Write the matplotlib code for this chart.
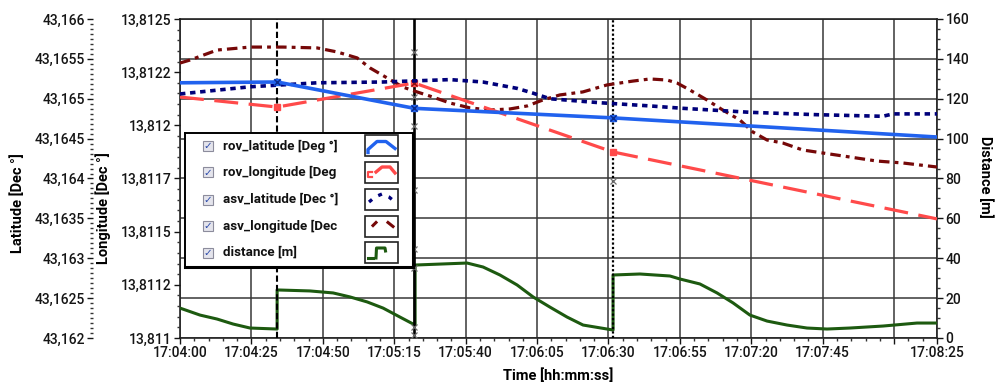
import matplotlib
matplotlib.use('Agg')
import matplotlib.pyplot as plt
from matplotlib.ticker import MultipleLocator
from matplotlib.patches import Rectangle

plt.rcParams['font.family'] = ['Roboto', 'DejaVu Sans']

# time axis: seconds after 17:04:00
x_ticks = [0, 25, 50, 75, 100, 125, 150, 175, 200, 225, 250, 265]
x_labels = ['17:04:00', '17:04:25', '17:04:50', '17:05:15', '17:05:40', '17:06:05',
            '17:06:30', '17:06:55', '17:07:20', '17:07:45', '', '17:08:25']

lat_ticks = [43.162, 43.1625, 43.163, 43.1635, 43.164, 43.1645, 43.165, 43.1655, 43.166]
lat_labels = ['43,162', '43,1625', '43,163', '43,1635', '43,164', '43,1645', '43,165', '43,1655', '43,166']
lon_ticks = [13.811, 13.81125, 13.8115, 13.81175, 13.812, 13.81225, 13.8125]
lon_labels = ['13,811', '13,8112', '13,8115', '13,8117', '13,812', '13,8122', '13,8125']

# rov: straight legs between waypoints
t_rov = [0, 34, 82, 151.5, 265]
rov_latitude = [43.16520, 43.16521, 43.16488, 43.16476, 43.16452]
rov_longitude = [13.812133, 13.812086, 13.812199, 13.811875, 13.811560]

t_asv_lat = [0, 24.5, 48, 71, 94.5, 106, 118, 123.6, 129.5, 147, 164.5, 176, 199.5,
             223, 246, 249.6, 265]
asv_latitude = [43.16506, 43.16515, 43.16520, 43.16521, 43.16524, 43.16521, 43.16513,
                43.16507, 43.16500, 43.16495, 43.16491, 43.16488, 43.16483, 43.16480,
                43.16478, 43.16481, 43.16481]

t_asv_lon = [0, 3.5, 13, 24.5, 36, 48, 55, 62, 66.5, 72.5, 78, 83, 88.5, 94.5, 101.5,
             108.5, 115.5, 121.5, 127, 133, 141, 149.5, 158.5, 164.5, 170.5, 174, 178.5,
             184.5, 190, 196, 200.5, 205.5, 211, 218, 225, 234.5, 244, 253, 265]
asv_longitude = [13.812293, 13.812307, 13.812354, 13.812368, 13.812368, 13.812364,
                 13.812345, 13.812317, 13.812270, 13.812223, 13.812180, 13.812157,
                 13.812133, 13.812105, 13.812082, 13.812072, 13.812077, 13.812091,
                 13.812119, 13.812143, 13.812157, 13.812190, 13.812208, 13.812218,
                 13.812213, 13.812199, 13.812166, 13.812119, 13.812072, 13.812025,
                 13.811969, 13.811931, 13.811917, 13.811884, 13.811870, 13.811851,
                 13.811832, 13.811823, 13.811804]

t_dist = [0, 7, 13, 18.6, 24.5, 34, 34, 45.5, 53.6, 59.5, 65.5, 71.1, 77, 82.3, 82.3,
          100.5, 106.1, 112, 118, 123.6, 129.5, 135.5, 141.1, 149.5, 151.6, 151.6, 161,
          171.5, 175, 182, 188, 193.6, 199.5, 205.5, 212.5, 219.5, 226.5, 234.5, 246.1,
          258, 265]
distance = [15.0, 11.5, 9.5, 7.0, 5.0, 4.5, 24.1, 23.6, 22.6, 20.6, 18.1, 15.0, 10.5,
            6.5, 36.6, 37.6, 35.6, 31.6, 26.6, 20.6, 15.5, 10.5, 6.5, 4.5, 4.0, 31.6,
            32.1, 31.1, 29.6, 27.1, 22.6, 17.6, 11.5, 8.5, 6.5, 5.0, 4.5, 5.0, 6.0, 7.5,
            7.5]

cursor_times = [34, 82, 151.5]
cursor_marks_t = [82, 82, 82, 82, 82, 82, 82, 82, 151.5]
cursor_marks_d = [143.5, 120.9, 106.3, 74.2, 44.6, 35.1, 5.5, 1.5, 78.8]

c_blue = '#2162ee'
c_red = '#ff4a4a'
c_navy = '#00007a'
c_dred = '#760808'
c_green = '#1d5a10'
c_grid = '#383838'

fig = plt.figure(figsize=(10, 3.83), dpi=100)
ax = fig.add_axes([0.18, 0.1175, 0.757, 0.8329])
ax_lon = ax.twinx()
ax_lat = ax.twinx()

tick_font = dict(labelsize=10, pad=2, colors='#151515')

# distance axis (host, right side)
ax.set_xlim(0, 265)
ax.set_ylim(0, 160)
ax.yaxis.set_ticks_position('right')
ax.set_yticks(range(0, 161, 20))
ax.yaxis.set_minor_locator(MultipleLocator(5))
ax.set_xticks(x_ticks)
ax.set_xticklabels(x_labels)
ax.xaxis.set_minor_locator(MultipleLocator(5))
ax.grid(True, which='major', color=c_grid, lw=1.1)
ax.set_axisbelow(True)
for s in ax.spines.values():
    s.set_color('#222222')
    s.set_linewidth(1.2)
ax.tick_params(which='major', direction='out', length=4, width=1, **tick_font)
ax.tick_params(which='minor', direction='out', length=2.5, width=1, colors='#333333')

# longitude axis (inner left)
ax_lon.set_ylim(13.811, 13.8125)
ax_lon.yaxis.set_ticks_position('left')
ax_lon.set_yticks(lon_ticks)
ax_lon.set_yticklabels(lon_labels)
ax_lon.yaxis.set_minor_locator(MultipleLocator(0.00005))
for s in ax_lon.spines.values():
    s.set_visible(False)
ax_lon.tick_params(which='major', direction='out', length=4, width=1, **tick_font)
ax_lon.tick_params(which='minor', direction='out', length=2.5, width=1, colors='#333333')

# latitude axis (outer left)
ax_lat.set_ylim(43.162, 43.166)
ax_lat.spines['left'].set_position(('outward', 62.6))
ax_lat.yaxis.set_ticks_position('left')
ax_lat.set_yticks(lat_ticks)
ax_lat.set_yticklabels(lat_labels)
ax_lat.yaxis.set_minor_locator(MultipleLocator(0.0000625))
for s in ax_lat.spines.values():
    s.set_visible(False)
ax_lat.tick_params(which='major', direction='out', length=4, width=1, **tick_font)
ax_lat.tick_params(which='minor', direction='out', length=2.5, width=1, colors='#333333')

for a in (ax, ax_lon, ax_lat):
    for lab in a.get_xticklabels() + a.get_yticklabels():
        lab.set_fontweight('medium')

# cursors
cursor_styles = [(0, (3, 1.5)), '-', (0, (1, 1))]
cursor_widths = [1.5, 1.9, 1.6]
for ct, ls, lw in zip(cursor_times, cursor_styles, cursor_widths):
    ax.axvline(ct, color='black', ls=ls, lw=lw, zorder=4)
ax.plot(cursor_marks_t, cursor_marks_d, ls='none', marker='x', ms=4.5, mew=0.9,
        color='#6e6e6e', zorder=5)

# series
ax.plot(t_dist, distance, color=c_green, lw=2.2, zorder=3)
ax_lat.plot(t_asv_lat, asv_latitude, color=c_navy, lw=2.6, ls=(0, (1.5, 1.3)),
            solid_capstyle='butt', dash_capstyle='butt')
ax_lon.plot(t_asv_lon, asv_longitude, color=c_dred, lw=2.3, ls=(0, (3.3, 1.6, 1.2, 1.6)),
            dash_capstyle='butt')
ax_lon.plot(t_rov, rov_longitude, color=c_red, lw=2.3, ls=(0, (7.5, 3.3)),
            dash_capstyle='butt')
ax_lat.plot(t_rov, rov_latitude, color=c_blue, lw=2.6)

# cursor points on the rov tracks
ax_lat.plot(t_rov[1:4], rov_latitude[1:4], ls='none', marker='s', ms=4, color=c_blue)
ax_lat.plot(t_rov[1:4], rov_latitude[1:4], ls='none', marker='x', ms=5, mew=1, color='#0a2a8a')
ax_lon.plot(t_rov[1:4], rov_longitude[1:4], ls='none', marker='s', ms=4, color=c_red)
ax_lon.plot(t_rov[2:3], rov_longitude[2:3], ls='none', marker='x', ms=5, mew=1, color='#8a1010')

# axis titles
fig.text(0.018, 0.47, 'Latitude [Dec °]', rotation=90, ha='center', va='center',
         fontsize=10.5, fontweight='bold')
fig.text(0.103, 0.457, 'Longitude [Dec °]', rotation=90, ha='center', va='center',
         fontsize=10.5, fontweight='bold')
fig.text(0.985, 0.537, 'Distance [m]', rotation=-90, ha='center', va='center',
         fontsize=10.5, fontweight='bold')
fig.text(0.558, 0.02, 'Time [hh:mm:ss]', ha='center', va='center',
         fontsize=10.5, fontweight='bold')

# LabVIEW-like plot legend
lg = fig.add_axes([185 / 1000, (383 - 267) / 383, 228 / 1000, 134 / 383], zorder=10)
lg.set_xlim(185, 413)
lg.set_ylim(267, 133)
lg.set_xticks([])
lg.set_yticks([])
lg.patch.set_facecolor('white')
for name, s in lg.spines.items():
    s.set_color('black')
    s.set_linewidth(2.2 if name in ('right', 'bottom') else 1.4)

legend_labels = ['rov_latitude [Deg °]', 'rov_longitude [Deg', 'asv_latitude [Dec °]',
                 'asv_longitude [Dec', 'distance [m]']
row_y = [146, 172.5, 199.5, 226, 252.5]
for lab, yc in zip(legend_labels, row_y):
    lg.add_patch(Rectangle((203, yc - 5), 10, 10, fc='#e4e4ec', ec='#8c8c9c', lw=0.8))
    lg.text(208, yc + 0.5, '✓', ha='center', va='center', fontsize=7.5, color='#2848a8',
            family='DejaVu Sans', fontweight='bold')
    lg.text(223, yc, lab, ha='left', va='center', fontsize=9.6, fontweight='bold',
            color='#111111')
    lg.add_patch(Rectangle((365, yc - 10.5), 33, 21, fc='white', ec='#222222', lw=1.2))

bx = 365
top = [yc - 10.5 for yc in row_y]
lg.plot([bx + 3, bx + 3, bx + 12, bx + 21, bx + 30],
        [top[0] + 17, top[0] + 14, top[0] + 6, top[0] + 6, top[0] + 13], color=c_blue, lw=2.4)
lg.plot([bx + 7, bx + 3, bx + 3, bx + 7], [top[1] + 10, top[1] + 10, top[1] + 15, top[1] + 15],
        color=c_red, lw=1.6)
lg.plot([bx + 11, bx + 17, bx + 25, bx + 30], [top[1] + 10, top[1] + 5, top[1] + 5, top[1] + 11],
        color=c_red, lw=2.4)
lg.plot([bx + 4, bx + 10, bx + 17, bx + 24, bx + 30],
        [top[2] + 13, top[2] + 8, top[2] + 5, top[2] + 8, top[2] + 13], color=c_navy, lw=2.4,
        ls=(0, (1.2, 2.2)))
lg.plot([bx + 8, bx + 11], [top[3] + 10, top[3] + 7], color=c_dred, lw=2.2)
lg.plot([bx + 23, bx + 28], [top[3] + 7, top[3] + 11], color=c_dred, lw=2.2)
lg.plot([bx + 3, bx + 8], [top[4] + 16, top[4] + 16], color=c_green, lw=2.2)
lg.plot([bx + 11, bx + 11.5, bx + 20, bx + 20.5], [top[4] + 16, top[4] + 6, top[4] + 6, top[4] + 9],
        color=c_green, lw=2.2)

fig.savefig('out.png', dpi=100)
